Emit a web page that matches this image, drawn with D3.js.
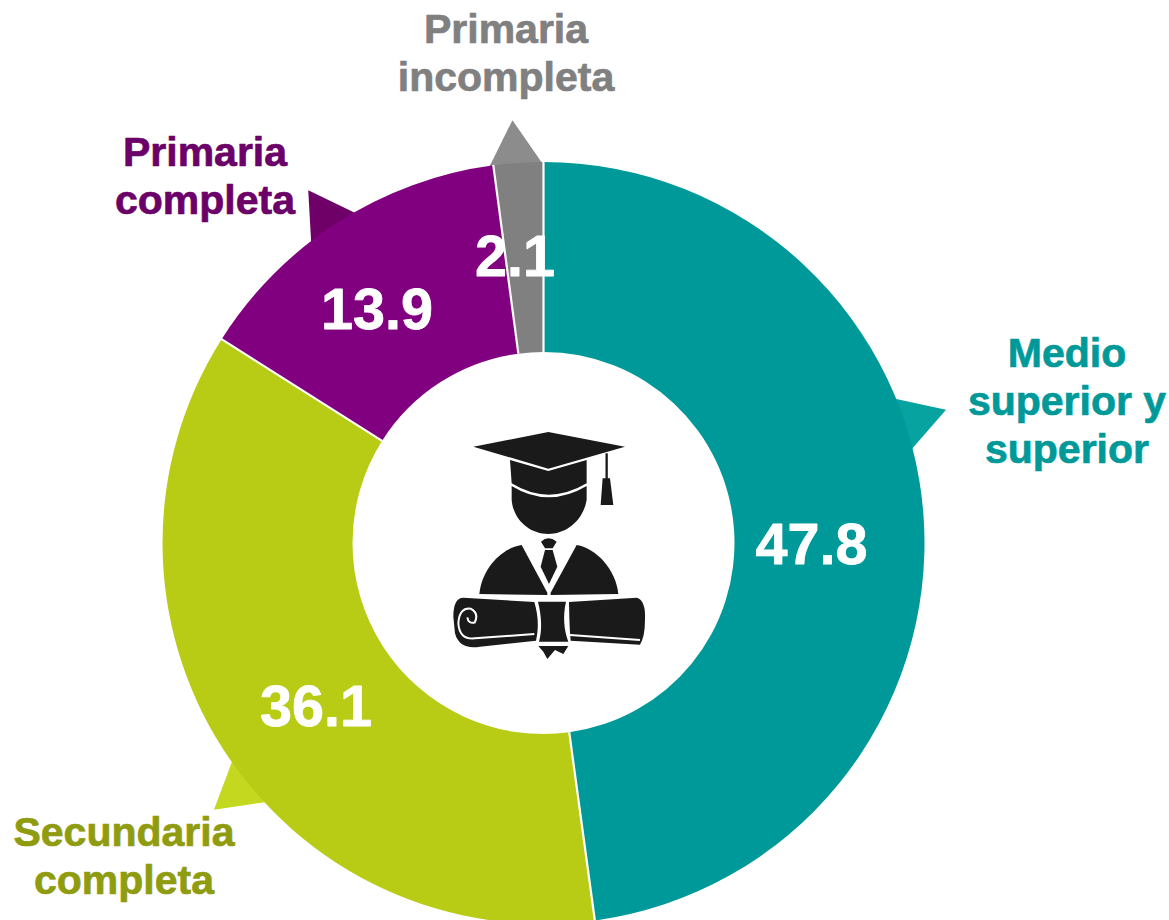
<!DOCTYPE html>
<html lang="es">
<head>
<meta charset="utf-8">
<title>Nivel educativo</title>
<script src="https://cdn.jsdelivr.net/npm/d3@7"></script>
<style>
html,body{margin:0;padding:0;background:#fff}
svg{display:block}
text{font-family:"Liberation Sans",Arial,sans-serif;font-weight:700;text-anchor:middle;stroke-linejoin:round}
</style>
</head>
<body>
<div id="chart"></div>
<script>
const categories = ["Medio superior y superior", "Secundaria completa", "Primaria completa", "Primaria incompleta"];
const values = [47.8, 36.1, 13.9, 2.1];
const sliceColors = ["#009999", "#B8CC16", "#800080", "#808080"];
const pointerColors = ["#06A3A0", "#C5D820", "#6E0068", "#8C8C8C"];
const labelColors = ["#009999", "#8F9C10", "#6B0068", "#808080"];
const labelLines = [["Medio", "superior y", "superior"], ["Secundaria", "completa"], ["Primaria", "completa"], ["Primaria", "incompleta"]];
const labelAnchors = [[1067, 367], [124, 846], [205, 166], [506, 43]];
const valueAnchors = [[811.5, 564], [316, 726], [377, 329], [515, 276]];
const pointerAngles = [71.7, 231, 326.3, 355.8];

const W = 1169, H = 920, cx = 543.5, cy = 543, R = 381, r0 = 191, tipR = 424, halfWidth = 4.2;
const svg = d3.select("#chart").append("svg").attr("width", W).attr("height", H).attr("viewBox", [0, 0, W, H]);
const rad = d3.scaleLinear().domain([0, 360]).range([0, 2 * Math.PI]);
const g = svg.append("g").attr("transform", `translate(${cx},${cy})`);

const pointer = d3.lineRadial().angle(d => rad(d[0])).radius(d => d[1]);
g.selectAll("path.pointer").data(pointerAngles).join("path")
  .attr("class", "pointer")
  .attr("fill", (d, i) => pointerColors[i])
  .attr("d", d => pointer([[d - halfWidth, R - 3], [d, tipR], [d + halfWidth, R - 3]]) + "Z");

const pie = d3.pie().sort(null).value(d => d)(values);
const arc = d3.arc().innerRadius(r0).outerRadius(R);
g.selectAll("path.slice").data(pie).join("path")
  .attr("class", "slice")
  .attr("fill", (d, i) => sliceColors[i])
  .attr("d", arc);

// thin white separators between slices, taken from each slice's start angle
const sep = d3.lineRadial().angle(d => d[0]).radius(d => d[1]);
g.selectAll("path.sep").data(pie).join("path")
  .attr("class", "sep").attr("fill", "none").attr("stroke", "#fff").attr("stroke-width", 2.2)
  .attr("d", d => sep([[d.startAngle, r0], [d.startAngle, R + 0.5]]));

svg.selectAll("text.value").data(values).join("text")
  .attr("class", "value").attr("fill", "#fff").attr("stroke", "#fff").attr("stroke-width", 0.8).attr("font-size", 57.5)
  .attr("x", (d, i) => valueAnchors[i][0]).attr("y", (d, i) => valueAnchors[i][1])
  .text(d => d3.format(".1f")(d));

labelLines.forEach((lines, i) => {
  svg.append("text").attr("font-size", 41).attr("fill", labelColors[i])
    .attr("stroke", labelColors[i]).attr("stroke-width", 0.7)
    .attr("aria-label", categories[i])
    .selectAll("tspan").data(lines).join("tspan")
    .attr("x", labelAnchors[i][0]).attr("y", (d, j) => labelAnchors[i][1] + j * 48)
    .text(d => d);
});

// Graduate pictogram
const icon = svg.append("g").attr("transform", "translate(440,420) scale(0.3333)").attr("fill", "#1a1a1a");
const shapes = [
  "M100,80 L325,36 L555,80 L325,146 Z",
  "M210,120 L325,153 L440,120 L440,190 Q325,258 215,190 Z",
  "M215,198 Q325,266 440,198 L440,240 C430,300 380,342 325,342 C270,342 220,300 215,240 Z",
  "M488,175 L510,175 L520,255 L482,255 Z",
  "M303,365 Q325,345 350,365 L338,385 L315,385 Z",
  "M315,390 L338,390 L352,440 L327,492 L302,440 Z",
  "M118,522 C125,450 180,385 245,375 L322,518 L322,525 Z",
  "M535,522 C528,450 470,385 410,375 L332,518 L332,525 Z",
  "M70,533 L283,546 C296,590 296,625 288,662 L120,680 Q58,690 45,640 L40,590 Q40,533 70,533 Z",
  "M294,545 L378,545 C368,590 372,630 385,665 L297,665 C307,630 305,590 294,545 Z",
  "M387,546 L590,533 Q618,540 615,600 Q615,650 600,674 L392,662 C388,620 388,580 387,546 Z",
  "M295,678 L385,678 L370,702 L345,690 L322,717 L310,695 Z"
];
icon.selectAll("path.part").data(shapes).join("path").attr("class", "part").attr("d", d => d);
icon.append("line").attr("x1", 500).attr("x2", 500).attr("y1", 100).attr("y2", 180).attr("stroke", "#1a1a1a").attr("stroke-width", 7);
icon.append("path").attr("fill", "none").attr("stroke", "#fff").attr("stroke-width", 6)
  .attr("d", "M283,642 L105,655 Q58,660 55,610 Q58,562 92,566 Q118,580 104,608 Q85,612 82,592");
icon.append("path").attr("fill", "none").attr("stroke", "#fff").attr("stroke-width", 6)
  .attr("d", "M390,645 L600,660");
</script>
</body>
</html>
